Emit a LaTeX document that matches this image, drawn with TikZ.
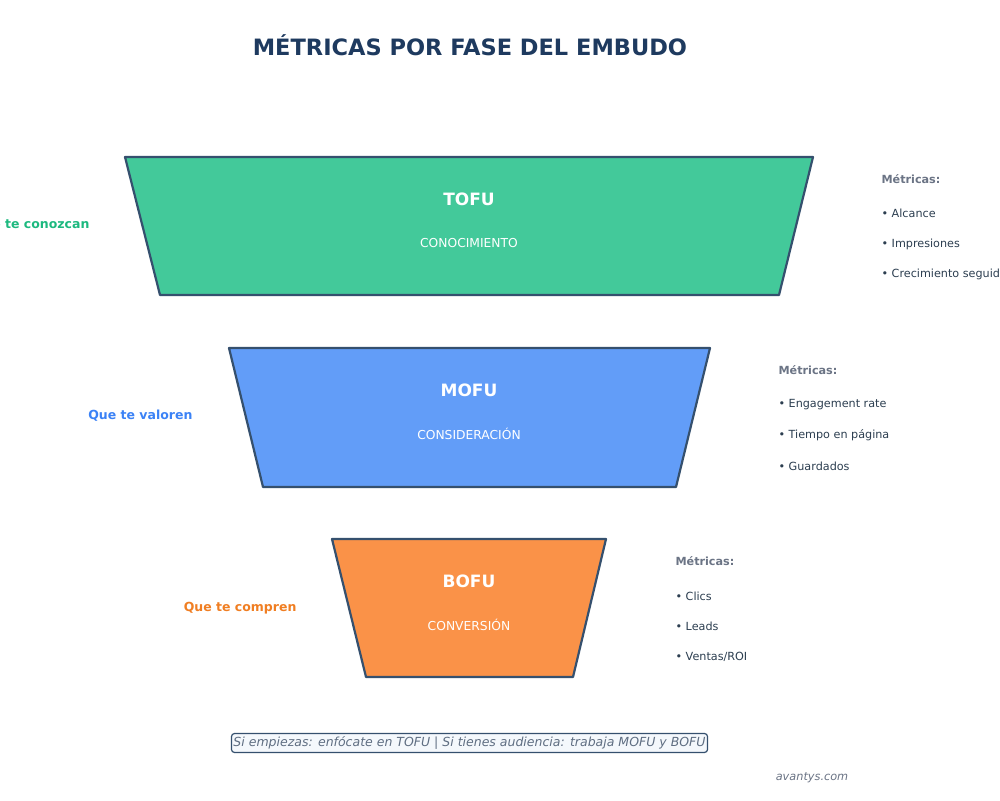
\documentclass[tikz,border=0pt]{standalone}
\usepackage{fontspec}
\setmainfont{DejaVu Sans}
\begin{document}
\begin{tikzpicture}[x=1pt,y=-1pt,
 stage/.style={draw=strokec,line width=2.2pt,line join=round},
 ttl/.style={text=white,font=\fontsize{17}{20}\selectfont\bfseries},
 sub/.style={text=white,font=\fontsize{12.3}{14}\selectfont},
 mh/.style={anchor=west,text=mgray,font=\fontsize{11.2}{13}\selectfont\bfseries},
 mi/.style={anchor=west,text=mdark,font=\fontsize{11.2}{13}\selectfont},
 lab/.style={anchor=east,font=\fontsize{12.5}{14}\selectfont\bfseries}]
\definecolor{strokec}{HTML}{35506E}
\definecolor{mgray}{HTML}{6B7485}
\definecolor{mdark}{HTML}{2C3E50}
\definecolor{cg}{HTML}{43C99A}
\definecolor{cb}{HTML}{629DF8}
\definecolor{co}{HTML}{FA9248}
\definecolor{tg}{HTML}{1DB97F}
\definecolor{tb}{HTML}{3B82F6}
\definecolor{to}{HTML}{F07E22}
\definecolor{tc}{HTML}{1E3A5F}
\definecolor{nf}{HTML}{F4F8FC}
\definecolor{nt}{HTML}{5F6E82}
\useasboundingbox (0,0) rectangle (1000,800);
\clip (0,0) rectangle (1000,800);
\fill[white] (0,0) rectangle (1000,800);
\node (t) at (470,45) [text=tc,font=\fontsize{22.5}{26}\selectfont\bfseries] {MÉTRICAS POR FASE DEL EMBUDO};
% TOFU
\draw[stage,fill=cg] (125,157) -- (813,157) -- (779,295) -- (160,295) -- cycle;
\node[ttl] (tofu) at (469,199) {TOFU};
\node[sub] (tofus) at (469,243) {CONOCIMIENTO};
\node[lab,text=tg] (l1) at (93,225) {Que te conozcan};
\node[mh] (m1) at (878,179) {Métricas:};
\node[mi] (m1a) at (878,213) {• Alcance};
\node[mi] (m1b) at (878,244) {• Impresiones};
\node[mi] (m1c) at (878,274) {• Crecimiento seguidores};
% MOFU
\draw[stage,fill=cb] (229,348) -- (710,348) -- (676,487) -- (263,487) -- cycle;
\node[ttl] (mofu) at (469,390) {MOFU};
\node[sub] (mofus) at (469,434) {CONSIDERACIÓN};
\node[lab,text=tb] (l2) at (196,416) {Que te valoren};
\node[mh] (m2) at (775,370) {Métricas:};
\node[mi] (m2a) at (775,405) {• Engagement rate};
\node[mi] (m2b) at (775,435) {• Tiempo en página};
\node[mi] (m2c) at (775,466) {• Guardados};
% BOFU
\draw[stage,fill=co] (332,539) -- (606,539) -- (573,677) -- (366,677) -- cycle;
\node[ttl] (bofu) at (469,581) {BOFU};
\node[sub] (bofus) at (469,625) {CONVERSIÓN};
\node[lab,text=to] (l3) at (300,608) {Que te compren};
\node[mh] (m3) at (672,561) {Métricas:};
\node[mi] (m3a) at (672,596) {• Clics};
\node[mi] (m3b) at (672,626) {• Leads};
\node[mi] (m3c) at (672,657) {• Ventas/ROI};
% note
\node (note) at (469.5,743) [draw=strokec,line width=1.2pt,fill=nf,rounded corners=3pt,inner xsep=2pt,inner ysep=3pt,text=nt,font=\fontsize{12.5}{14}\selectfont\itshape] {Si empiezas: enfócate en TOFU | Si tienes audiencia: trabaja MOFU y BOFU};
\node (brand) at (812,778) [text=mgray,font=\fontsize{11.3}{13}\selectfont\itshape] {avantys.com};
\end{tikzpicture}
\end{document}
